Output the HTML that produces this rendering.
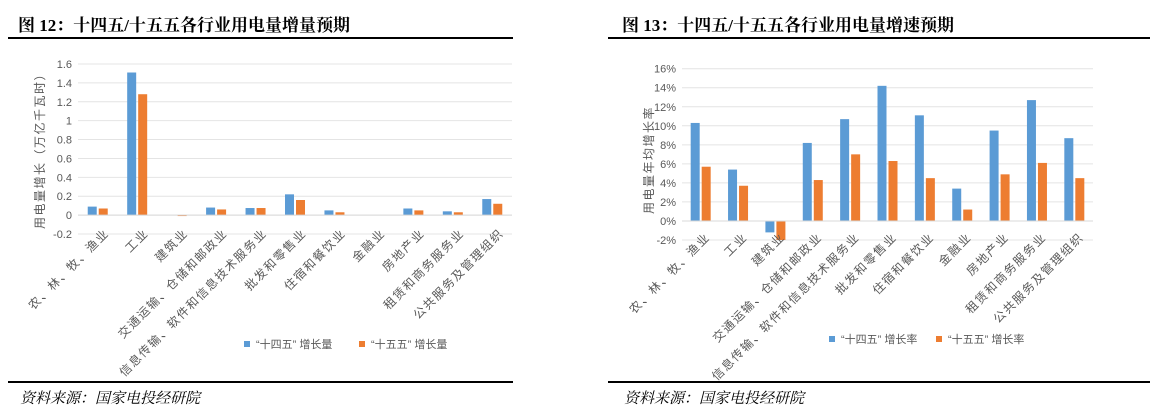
<!DOCTYPE html>
<html><head><meta charset="utf-8">
<style>
html,body{margin:0;padding:0;background:#fff;}
body{width:1168px;height:418px;overflow:hidden;position:relative;font-family:"Liberation Sans","Noto Sans CJK SC",sans-serif;}
.t{position:absolute;top:11px;font-family:"Liberation Serif","Noto Serif CJK SC",serif;font-weight:bold;font-size:17px;color:#000;}
.ln{position:absolute;height:2px;background:#000;}
.src{position:absolute;top:387px;font-family:"Liberation Serif","Noto Serif CJK SC",serif;font-style:italic;font-size:15px;color:#000;}
svg{position:absolute;left:0;top:0;}
</style></head><body>
<div class="t" style="left:18px">图 12：十四五/十五五各行业用电量增量预期</div>
<div class="t" style="left:622px">图 13：十四五/十五五各行业用电量增速预期</div>
<div class="ln" style="left:8px;width:505px;top:37px"></div>
<div class="ln" style="left:608px;width:542px;top:37px"></div>
<div class="ln" style="left:8px;width:505px;top:381px"></div>
<div class="ln" style="left:608px;width:542px;top:381px"></div>
<div class="src" style="left:20px">资料来源：国家电投经研院</div>
<div class="src" style="left:624px">资料来源：国家电投经研院</div>
<svg id="s" width="1168" height="418" xmlns="http://www.w3.org/2000/svg"></svg>
<script>
var cats=["农、林、牧、渔业","工业","建筑业","交通运输、仓储和邮政业","信息传输、软件和信息技术服务业","批发和零售业","住宿和餐饮业","金融业","房地产业","租赁和商务服务业","公共服务及管理组织"];
var L=[[0.09,0.07],[1.51,1.28],[0,-0.01],[0.08,0.06],[0.075,0.075],[0.22,0.16],[0.05,0.03],[0,0],[0.07,0.05],[0.04,0.03],[0.17,0.12]];
var R=[[10.3,5.7],[5.4,3.7],[-1.2,-2.0],[8.2,4.3],[10.7,7.0],[14.2,6.3],[11.1,4.5],[3.4,1.2],[9.5,4.9],[12.7,6.1],[8.7,4.5]];
var h="";
function chart(o){
 var x0=o.x0,x1=o.x1,cw=(x1-x0)/11;
 function Y(v){return o.y0+(o.max-v)/(o.max-o.min)*(o.ymax-o.y0);}
 for(var i=0;i<o.ticks.length;i++){var v=o.ticks[i],y=Y(v);
  h+='<line x1="'+x0+'" x2="'+x1+'" y1="'+y+'" y2="'+y+'" stroke="#e4e4e4" stroke-width="1"/>';
  h+='<text x="'+(x0-6)+'" y="'+(y+4)+'" text-anchor="end" font-size="11" fill="#595959">'+o.lab(v)+'</text>';}
 var z=Y(0);
 for(var i=0;i<11;i++){var c=x0+cw*(i+0.5),d=o.d[i];
  for(var k=0;k<2;k++){if(d[k]===0)continue;var y=Y(d[k]),bx=k?c+1:c-1-o.bw;
   h+='<rect x="'+bx+'" y="'+Math.min(y,z)+'" width="'+o.bw+'" height="'+Math.max(Math.abs(y-z),0.8)+'" fill="'+(k?'#ed7d31':'#5b9bd5')+'"/>';}
  var lx=c+o.lo,ly=o.ly;
  h+='<text transform="translate('+lx+','+ly+') rotate(-45)" text-anchor="end" font-size="12" letter-spacing="1.5" fill="#595959">'+cats[i]+'</text>';}
 h+='<line x1="'+x0+'" x2="'+x1+'" y1="'+z+'" y2="'+z+'" stroke="#d9d9d9"/>';
 h+='<text transform="translate('+o.ax+','+o.ay+') rotate(-90)" text-anchor="middle" font-size="12" letter-spacing="1.5" fill="#595959">'+o.at+'</text>';
 h+='<rect x="'+o.lg[0]+'" y="'+(o.lg[2]-4)+'" width="6" height="6" fill="#5b9bd5"/><text x="'+(o.lg[0]+12)+'" y="'+(o.lg[2]+3)+'" font-size="11" fill="#595959">“十四五” '+o.lt+'</text>';
 h+='<rect x="'+o.lg[1]+'" y="'+(o.lg[2]-4)+'" width="6" height="6" fill="#ed7d31"/><text x="'+(o.lg[1]+12)+'" y="'+(o.lg[2]+3)+'" font-size="11" fill="#595959">“十五五” '+o.lt+'</text>';
}
chart({x0:78,x1:512,y0:64,ymax:234,max:1.6,min:-0.2,ticks:[1.6,1.4,1.2,1,0.8,0.6,0.4,0.2,0,-0.2],lab:function(v){return (Math.round(v*10)/10).toString();},d:L,bw:9,lo:12,ly:234,ax:44,ay:148,at:"用电量增长（万亿千瓦时）",lg:[244,359,345],lt:"增长量"});
chart({x0:682,x1:1093,y0:68.7,ymax:240,max:16,min:-2,ticks:[16,14,12,10,8,6,4,2,0,-2],lab:function(v){return v+"%";},d:R,bw:9,lo:10,ly:238,ax:653,ay:160,at:"用电量年均增长率",lg:[829,936,340],lt:"增长率"});
document.getElementById("s").innerHTML=h;
</script>
</body></html>
